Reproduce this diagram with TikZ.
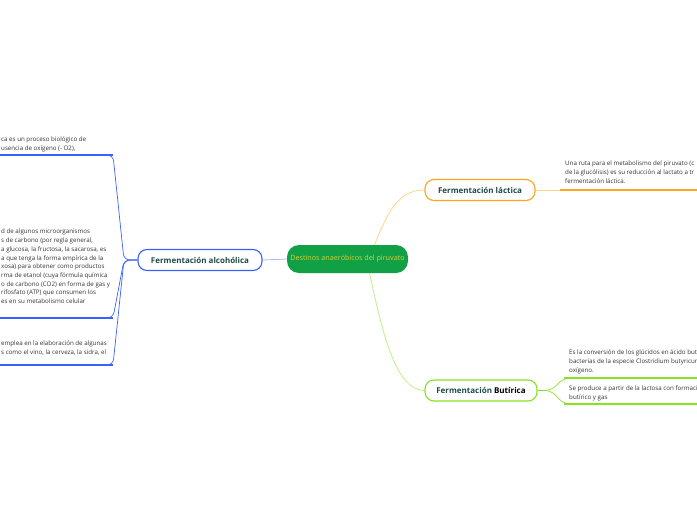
\documentclass[tikz,border=0pt]{standalone}
\usepackage{fontspec}
\setmainfont{Open Sans}
\usetikzlibrary{positioning,calc}
\definecolor{rootgreen}{HTML}{12A046}
\definecolor{rootink}{HTML}{CFD23A}
\definecolor{topicink}{HTML}{1E4B49}
\definecolor{noteink}{HTML}{333333}
\definecolor{mapblue}{HTML}{3A60FF}
\definecolor{maporange}{HTML}{FFA41C}
\definecolor{maplime}{HTML}{84E424}

\begin{document}
\begin{tikzpicture}[x=1pt,y=-1pt,
  topic/.style={draw=#1,line width=1.1pt,rounded corners=9pt,fill=white,minimum height=21pt,
    inner sep=0pt,text=topicink,font=\fontsize{8}{9}\selectfont\bfseries},
  note/.style={anchor=north west,inner sep=0pt,align=left,text=noteink,font=\fontsize{6.2}{8.7}\selectfont},
  twig/.style={#1,line width=0.7pt,rounded corners=6pt},
  rule/.style={#1,line width=1.5pt}]
\clip (0,0) rectangle (697,520);
% central topic and main branches
\node[fill=rootgreen,rounded corners=12pt,minimum width=121pt,minimum height=28pt,text=rootink,
  font=\fontsize{7.2}{8}\selectfont] (root) at (347.5,259) {Destinos anaeróbicos del piruvato};
\node[topic=mapblue,minimum width=124pt] (alco) at (200,260) {Fermentación alcohólica};
\node[topic=maporange,minimum width=110pt] (lact) at (480,190) {Fermentación láctica};
\node[topic=maplime,minimum width=112pt] (buti) at (481,390.5) {Fermentación \textcolor{black}{Butírica}};
\draw[mapblue!45,line width=0.8pt] (root.west) -- (alco.east);
\draw[maporange!50,line width=0.8pt] ($(root.north)+(27,0)$) .. controls (388,212) and (398,190) .. (lact.west);
\draw[maplime!55,line width=0.8pt] ($(root.south)+(22,0)$) .. controls (382,330) and (395,390.5) .. (buti.west);
% alcohólica: three notes on the left
\coordinate (alcoj) at (124,260);
\foreach \n/\y in {a/155,b/318,c/365} {
  \coordinate (alco\n) at (113,\y);
  \draw[twig=mapblue] (alco.west) -- (alcoj) -- (alco\n) -- ++(-12,0);
  \draw[rule=mapblue] (alco\n) -- (-5,\y);
}
\node[note] (notea) at (1,137) {ca es un proceso biológico de\\usencia de oxígeno (- O2),};
\node[note] (noteb) at (1,229) {d de algunos microorganismos\\s de carbono (por regla general,\\a glucosa, la fructosa, la sacarosa, es\\a que tenga la forma empírica de la\\xosa) para obtener como productos\\rma de etanol (cuya fórmula química\\o de carbono (CO2) en forma de gas y\\rifosfato (ATP) que consumen los\\es en su metabolismo celular};
\node[note] (notec) at (1,341) {emplea en la elaboración de algunas\\s como el vino, la cerveza, la sidra, el};
% láctica
\coordinate (lactj) at (560,190);
\draw[maporange!50,line width=0.8pt] (lact.east) -- (lactj);
\draw[rule=maporange] (lactj) -- (705,190);
\node[note] (notel) at (565,161) {Una ruta para el metabolismo del piruvato (c\\de la glucólisis) es su reducción al lactato a tr\\fermentación láctica.};
% butírica
\coordinate (butij) at (551,390.5);
\foreach \n/\y in {a/378,b/404} {
  \coordinate (buti\n) at (564,\y);
  \draw[twig=maplime] (buti.east) -- (butij) -- (buti\n) -- ++(12,0);
  \draw[rule=maplime] (buti\n) -- (705,\y);
}
\node[note] (notex) at (569,350) {Es la conversión de los glúcidos en ácido butír\\bacterias de la especie Clostridium butyricum\\oxígeno.};
\node[note] (notey) at (569,386) {Se produce a partir de la lactosa con formació\\butírico y gas};
\end{tikzpicture}
\end{document}
